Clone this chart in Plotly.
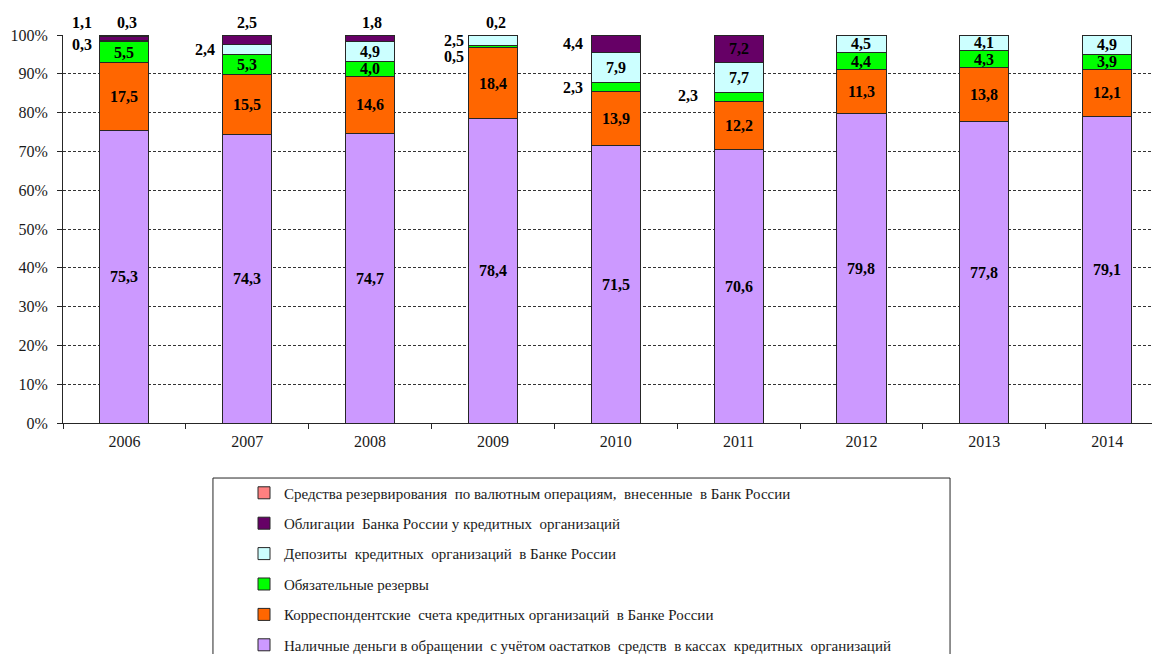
import plotly.graph_objects as go

years = ["2006", "2007", "2008", "2009", "2010", "2011", "2012", "2013", "2014"]

# shares of the monetary base, % (bottom of the stack first)
cash = [75.3, 74.3, 74.7, 78.4, 71.5, 70.6, 79.8, 77.8, 79.1]
corr_accounts = [17.5, 15.5, 14.6, 18.4, 13.9, 12.2, 11.3, 13.8, 12.1]
reserves = [5.5, 5.3, 4.0, 0.5, 2.3, 2.3, 4.4, 4.3, 3.9]
deposits = [0.3, 2.4, 4.9, 2.5, 7.9, 7.7, 4.5, 4.1, 4.9]
bonds = [1.1, 2.5, 1.8, 0.2, 4.4, 7.2, 0.0, 0.0, 0.0]
fx_reserving = [0.3, 0.0, 0.0, 0.0, 0.0, 0.0, 0.0, 0.0, 0.0]

y_ticks = list(range(0, 101, 10))
y_ticktext = [f"{v}%" for v in y_ticks]

series = [
    ("Наличные деньги в обращении  с учётом оастатков  средств  в кассах  кредитных  организаций", cash, "#CC99FF"),
    ("Корреспондентские  счета кредитных организаций  в Банке России", corr_accounts, "#FF6600"),
    ("Обязательные резервы", reserves, "#00FF00"),
    ("Депозиты  кредитных  организаций  в Банке России", deposits, "#CCFFFF"),
    ("Облигации  Банка России у кредитных  организаций", bonds, "#660066"),
    ("Средства резервирования  по валютным операциям,  внесенные  в Банк России", fx_reserving, "#FF8080"),
]

# labels that sit outside their segment: (series idx, year idx) -> (xshift px, "above" or yshift px)
OUTSIDE = {
    (3, 0): (-42, -3),
    (4, 0): (-42, "above"),
    (5, 0): (3, "above"),
    (3, 1): (-42, 0),
    (4, 1): (0, "above"),
    (4, 2): (2, "above"),
    (2, 3): (-39, -10),
    (3, 3): (-39, 0),
    (4, 3): (3, "above"),
    (4, 4): (-43, 0),
    (2, 4): (-43, 0),
    (2, 5): (-51, 2),
}
ABOVE_Y = 1.0335  # paper units, row of labels over the 100% line

SERIF = "Liberation Serif"

fig = go.Figure()
for i, (name, vals, color) in enumerate(series):
    fig.add_trace(
        go.Bar(
            x=years,
            y=vals,
            name=name,
            legendgroup=f"g{i}",
            legendrank=100 - i * 10,
            marker={"color": color, "line": {"color": "#262626", "width": 1}},
            hoverinfo="skip",
        )
    )

# ── Value labels ──────────────────────────────────────────────────
annotations = []
base = [0.0] * len(years)
for i, (name, vals, color) in enumerate(series):
    for j, v in enumerate(vals):
        if v > 0:
            txt = "<b>" + f"{v:.1f}".replace(".", ",") + "</b>"
            place = OUTSIDE.get((i, j))
            yc, yref = base[j] + v / 2, "y"
            xshift, yshift = 0, 0
            if place is not None:
                xshift = place[0]
                if place[1] == "above":
                    yc, yref = ABOVE_Y, "paper"
                else:
                    yshift = place[1]
            annotations.append(
                dict(
                    x=j, y=yc, xref="x", yref=yref, yanchor="middle",
                    text=txt, showarrow=False,
                    xshift=xshift, yshift=yshift,
                    font={"family": SERIF, "size": 16, "color": "#000"},
                )
            )
        base[j] += v

# the page body has an 8px margin, so the figure is a bit smaller than the window
fig.update_layout(
    width=1152,
    height=646,
    barmode="stack",
    bargap=0.6,
    plot_bgcolor="white",
    paper_bgcolor="white",
    margin={"l": 55, "r": 0, "t": 27, "b": 231, "autoexpand": False},
    font={"family": SERIF, "size": 15, "color": "#1a1a1a"},
    annotations=annotations,
    legend={
        "traceorder": "grouped",
        "x": 0.165,
        "xanchor": "left",
        "y": -0.138,
        "yanchor": "top",
        "tracegroupgap": 7.9,
        "font": {"family": SERIF, "size": 15, "color": "#1a1a1a"},
        "bgcolor": "rgba(0,0,0,0)",
    },
    shapes=[
        dict(type="rect", xref="paper", yref="paper",
             x0=0.1367, x1=0.8086, y0=-0.65, y1=-0.1418,
             line={"color": "#262626", "width": 1}),
    ],
)

fig.update_xaxes(
    range=[-0.5, 8.43],
    showline=True, linecolor="#262626", linewidth=1,
    ticks="outside", tickson="boundaries", ticklen=5, tickcolor="#262626",
    ticklabelstandoff=4,
    showgrid=False,
    tickfont={"family": SERIF, "size": 16, "color": "#1a1a1a"},
)
fig.update_yaxes(
    range=[0, 100],
    tickmode="array",
    tickvals=y_ticks,
    ticktext=y_ticktext,
    showline=True, linecolor="#262626", linewidth=1,
    ticks="outside", ticklen=5, tickcolor="#262626",
    ticklabelstandoff=6,
    showgrid=True, gridcolor="#333", gridwidth=1, griddash="3px,2px",
    zeroline=False,
    tickfont={"family": SERIF, "size": 16, "color": "#1a1a1a"},
)

fig.write_html("out.html")
